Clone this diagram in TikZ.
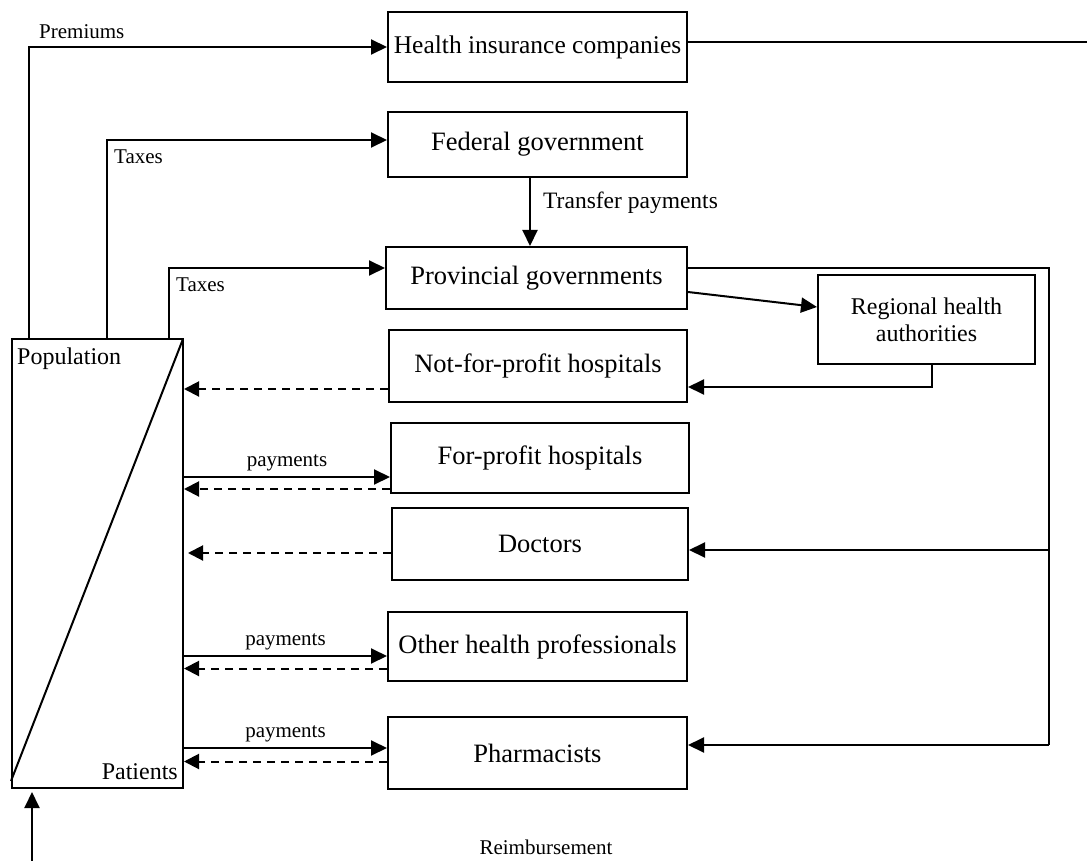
\documentclass[tikz,border=0pt]{standalone}
\usepackage{fontspec}
\setmainfont{Liberation Serif}
\usetikzlibrary{arrows.meta}

\tikzset{
  box/.style={draw, line width=2pt, inner sep=0pt, align=center,
    font=\fontsize{26.5pt}{30pt}\selectfont},
  smallbox/.style={draw, line width=2pt, inner sep=0pt, align=center,
    font=\fontsize{24pt}{27pt}\selectfont},
  arr/.style={line width=2pt, -{Triangle[length=16pt,width=15pt]}},
  darr/.style={line width=2pt, dash pattern=on 8pt off 6pt,
    -{Triangle[length=15pt,width=15pt]}},
  plain/.style={line width=2pt},
  lbl/.style={inner sep=0pt, font=\fontsize{21pt}{24pt}\selectfont},
  midlbl/.style={inner sep=0pt, font=\fontsize{24pt}{27pt}\selectfont}
}

\begin{document}
\begin{tikzpicture}[x=1pt,y=-1pt]
\useasboundingbox (0,0) rectangle (1087,861);

% funders and providers
\node[box, minimum width=299pt, minimum height=70pt, font=\fontsize{25.5pt}{29pt}\selectfont] (ins) at (537.5,47) {Health insurance companies};
\node[box, minimum width=299pt, minimum height=65pt] (fed) at (537.5,144.5) {Federal government};
\node[box, minimum width=301pt, minimum height=62pt] (prov) at (536.5,278) {Provincial governments};
\node[smallbox, minimum width=217pt, minimum height=89pt] (rha) at (926.5,319.5) {Regional health\\authorities};
\node[box, minimum width=298pt, minimum height=72pt] (nfp) at (538,366) {Not-for-profit hospitals};
\node[box, minimum width=298pt, minimum height=70pt] (fp) at (540,458) {For-profit hospitals};
\node[box, minimum width=296pt, minimum height=72pt] (doc) at (540,544) {Doctors};
\node[box, minimum width=299pt, minimum height=69pt] (oth) at (537.5,646.5) {Other health professionals};
\node[box, minimum width=299pt, minimum height=72pt] (pha) at (537.5,753) {Pharmacists};

% population / patients block, split by a diagonal
\node[draw, line width=2pt, minimum width=171pt, minimum height=449pt, inner sep=0pt] (pop) at (97.5,563.5) {};
\draw[plain] ([xshift=-1pt,yshift=-1pt]pop.north east) -- ([yshift=8pt]pop.south west);
\node[midlbl, anchor=west] (poplbl) at (17,359) {Population};
\node[midlbl, anchor=east] (patlbl) at (178,772) {Patients};

% money flowing up from the population
\coordinate (popA) at ([xshift=18pt]pop.north west);
\coordinate (popB) at ([xshift=96pt]pop.north west);
\coordinate (popC) at ([xshift=158pt]pop.north west);
\draw[arr] (popA) |- (ins.west);
\draw[arr] (popB) |- ([yshift=4.5pt]fed.west);
\draw[arr] (popC) |- ([yshift=10pt]prov.west);
\node[lbl, anchor=west] (premlbl) at (39,32) {Premiums};
\node[lbl, anchor=west] (tax1lbl) at (114,157) {Taxes};
\node[lbl, anchor=west] (tax2lbl) at (176,285) {Taxes};

% insurance payouts leave the frame
\coordinate (insend) at (1087,42);
\draw[plain] ([yshift=5pt]ins.east) -- (insend);

% federal to provincial
\draw[arr] ([xshift=-7.5pt]fed.south) -- ([xshift=-7.5pt]fed.south |- prov.north);
\node[midlbl, anchor=west, font=\fontsize{23.5pt}{26pt}\selectfont] (trlbl) at (543,203) {Transfer payments};

% provincial to regional authorities to hospitals
\draw[arr] ([yshift=-14pt]prov.east) -- ([yshift=12.5pt]rha.west);
\draw[arr] ([xshift=5.5pt]rha.south) |- ([yshift=-21pt]nfp.east);

% provincial bus to doctors and pharmacists
\coordinate (busD) at (1049,550);
\coordinate (busP) at (1049,745);
\draw[plain] ([yshift=10pt]prov.east) -| (busP);
\draw[arr] (busD) -- (busD -| doc.east);
\draw[arr] (busP) -- (busP -| pha.east);

% services back to patients and direct payments
\draw[darr] ([yshift=-23pt]nfp.west) -- ([yshift=-23pt]nfp.west -| pop.east);

\draw[arr] ([yshift=-19pt]fp.west -| pop.east) -- node[lbl, above=5pt] (pay1) {payments} ([yshift=-19pt]fp.west);
\draw[darr] ([yshift=-31pt]fp.west) -- ([yshift=-31pt]fp.west -| pop.east);

\draw[darr] ([yshift=-9pt]doc.west) -- ([yshift=-9pt,xshift=4pt]doc.west -| pop.east);

\draw[arr] ([yshift=-9.5pt]oth.west -| pop.east) -- node[lbl, above=5pt] (pay2) {payments} ([yshift=-9.5pt]oth.west);
\draw[darr] ([yshift=-22pt]oth.west) -- ([yshift=-22pt]oth.west -| pop.east);

\draw[arr] ([yshift=5pt]pha.west -| pop.east) -- node[lbl, above=5pt] (pay3) {payments} ([yshift=5pt]pha.west);
\draw[darr] ([yshift=-8.5pt]pha.west) -- ([yshift=-8.5pt]pha.west -| pop.east);

% reimbursement
\coordinate (reimb) at (32,861);
\draw[arr, shorten >=3pt] (reimb) -- (reimb |- pop.south);
\node[lbl] (reimblbl) at (546,847) {Reimbursement};
\end{tikzpicture}
\end{document}
